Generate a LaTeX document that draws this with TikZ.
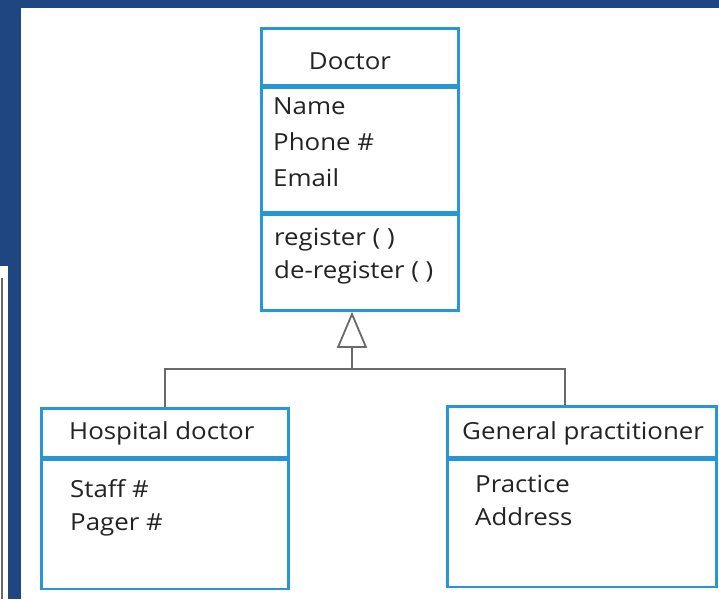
\documentclass[tikz,border=0pt]{standalone}
\usepackage{fontspec}
\setmainfont{Open Sans}[FakeStretch=1.1]
\usetikzlibrary{arrows.meta}

\definecolor{slideblue}{RGB}{31,70,128}
\definecolor{umlblue}{RGB}{38,150,212}
\definecolor{linegray}{RGB}{105,105,105}
\definecolor{textgray}{RGB}{35,35,35}

\tikzset{
	umlbox/.style={draw=umlblue, line width=2.6pt, anchor=north west, inner sep=0pt},
	umltext/.style={anchor=base west, inner sep=0pt, align=left, text=textgray,
		font=\fontsize{23.5}{33}\selectfont},
	inherit/.style={draw=linegray, line width=1.8pt},
}

\begin{document}
\begin{tikzpicture}[x=1pt, y=-1pt]
		\useasboundingbox (0,0) rectangle (719,599);
		\fill[white] (0,0) rectangle (719,599);
		\fill[slideblue] (0,0) rectangle (719,8);
		\fill[slideblue] (0,0) rectangle (21,599);
		\fill[white] (0,266) rectangle (8,599);
		\draw[linegray, line width=1.2pt] (2,278) -- (2,599);

		\node[umlbox, minimum width=197pt, minimum height=57pt] (doctor-name) at (260,27) {};
		\node[umlbox, minimum width=197pt, minimum height=124pt] (doctor-attr) at (doctor-name.south west) {};
		\node[umlbox, minimum width=197pt, minimum height=96pt] (doctor-ops) at (doctor-attr.south west) {};
		\node[umltext, anchor=base] (doctor-title) at (350,70) {Doctor};
		\node[umltext, font=\fontsize{23.5}{36}\selectfont] (doctor-fields) at (273,186) {Name\\Phone \#\\Email};
		\node[umltext] (doctor-methods) at (274,278) {register ( )\\de-register ( )};

		\node[umlbox, minimum width=247pt, minimum height=49pt] (hosp-name) at (40,407) {};
		\node[umlbox, minimum width=247pt, minimum height=129pt] (hosp-attr) at (hosp-name.south west) {};
		\node[umltext] (hosp-title) at (69,439) {Hospital doctor};
		\node[umltext] (hosp-fields) at (70,530) {Staff \#\\Pager \#};

		\node[umlbox, minimum width=269pt, minimum height=51pt] (gp-name) at (446,405) {};
		\node[umlbox, minimum width=269pt, minimum height=127pt] (gp-attr) at (gp-name.south west) {};
		\node[umltext] (gp-title) at (462,439) {General practitioner};
		\node[umltext] (gp-fields) at (475,525) {Practice\\Address};

		\coordinate (join) at (352,369);
		\coordinate (gp-link) at (565,405);
		\draw[inherit] (hosp-name.north) |- (join) -| (gp-link);
		\draw[inherit, -{Triangle[open, length=36pt, width=30pt]}] (join) -- (doctor-ops.south -| join);
	\end{tikzpicture}
\end{document}
